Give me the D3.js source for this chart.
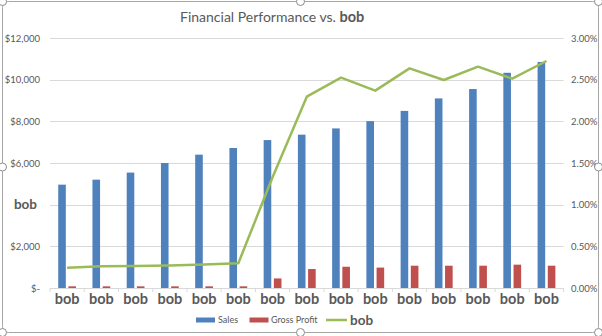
<!DOCTYPE html>
<html><head><meta charset="utf-8">
<script src="https://cdn.jsdelivr.net/npm/d3@7"></script>
<style>body{margin:0;background:#fff}svg{display:block}text{font-family:Lato,"Open Sans",sans-serif}</style>
</head><body><svg id="c" width="602" height="336"></svg>
<script>
const categories = ["bob","bob","bob","bob","bob","bob","bob","bob","bob","bob","bob","bob","bob","bob","bob"];
const sales = [4960,5200,5540,6000,6400,6720,7100,7360,7660,8010,8500,9100,9550,10330,10850];
const grossProfit = [80,80,80,80,80,80,460,910,1020,980,1070,1070,1070,1120,1070];
const bobPct = [0.00244,0.00262,0.00264,0.00270,0.00282,0.00296,0.0133,0.02296,0.02524,0.02368,0.02636,0.02496,0.02656,0.02512,0.02724];
const leftTicks = [0,2000,4000,6000,8000,10000,12000];
const leftTickLabels = ["$-","$2,000","bob","$6,000","$8,000","$10,000","$12,000"];
const rightTicks = [0,0.005,0.01,0.015,0.02,0.025,0.03];
const seriesNames = ["Sales","Gross Profit","bob"];

const svg = d3.select("#c");
const gray = "#595959";
const colors = {sales:"#4F81BD", gp:"#C0504D", line:"#9BBB59"};

// chart border + handles
svg.append("rect").attr("x",2.5).attr("y",1.5).attr("width",596).attr("height",331)
  .attr("rx",6).attr("fill","#fff").attr("stroke","#a6a6a6").attr("stroke-width",1);

const x = d3.scaleBand().domain(d3.range(categories.length)).range([50,563.6]).paddingInner(0).paddingOuter(0);
const yL = d3.scaleLinear().domain([0,12000]).range([288,38]);
const yR = d3.scaleLinear().domain([0,0.03]).range([288,38]);

// gridlines
svg.append("g").selectAll("line").data(leftTicks.slice(1)).join("line")
  .attr("x1",50).attr("x2",563.6).attr("y1",d=>Math.round(yL(d))+0.5).attr("y2",d=>Math.round(yL(d))+0.5)
  .attr("stroke","#d9d9d9").attr("stroke-width",1);

// left axis labels
svg.append("g").selectAll("text").data(leftTicks).join("text")
  .attr("x",40).attr("y",d=>yL(d)+3.5).attr("text-anchor","end")
  .attr("font-size",(d,i)=>leftTickLabels[i]==="bob"?13.5:9.5)
  .attr("font-weight",(d,i)=>leftTickLabels[i]==="bob"?"bold":"normal")
  .attr("fill",gray).text((d,i)=>leftTickLabels[i]).each(function(d,i){ if(leftTickLabels[i]==="bob") d3.select(this).attr("y",yL(d)+4.5).attr("x",37);});

// right axis labels
const pf = d3.format(".2%");
svg.append("g").selectAll("text").data(rightTicks).join("text")
  .attr("x",571).attr("y",d=>yR(d)+3.5).attr("font-size",9.5).attr("fill",gray).text(d=>pf(d));

// bars
const bw = 7.6;
svg.append("g").selectAll("rect").data(sales).join("rect")
  .attr("x",(d,i)=>x(i)+x.bandwidth()/2-1.3-bw).attr("width",bw)
  .attr("y",d=>yL(d)).attr("height",d=>yL(0)-yL(d)).attr("fill",colors.sales);
svg.append("g").selectAll("rect").data(grossProfit).join("rect")
  .attr("x",(d,i)=>x(i)+x.bandwidth()/2+1.3).attr("width",bw)
  .attr("y",d=>yL(d)).attr("height",d=>yL(0)-yL(d)).attr("fill",colors.gp);

// x axis line and ticks
svg.append("line").attr("x1",50).attr("x2",563.6).attr("y1",288.5).attr("y2",288.5).attr("stroke","#d9d9d9");
svg.append("g").selectAll("line").data(d3.range(categories.length+1)).join("line")
  .attr("x1",i=>(i<categories.length?x(i):563.6)).attr("x2",i=>(i<categories.length?x(i):563.6))
  .attr("y1",288).attr("y2",292).attr("stroke","#d9d9d9");

// category labels
svg.append("g").selectAll("text").data(categories).join("text")
  .attr("x",(d,i)=>x(i)+x.bandwidth()/2).attr("y",304).attr("text-anchor","middle")
  .attr("font-size",14.5).attr("font-weight","bold").attr("fill",gray).text(d=>d);

// line
const line = d3.line().x((d,i)=>x(i)+x.bandwidth()/2).y(d=>yR(d));
svg.append("path").datum(bobPct).attr("d",line).attr("fill","none")
  .attr("stroke",colors.line).attr("stroke-width",2.5).attr("stroke-linejoin","round");

// title
const t = svg.append("text").attr("x",180).attr("y",22).attr("font-size",14).attr("fill",gray);
t.append("tspan").text("Financial Performance vs. ");
t.append("tspan").attr("font-weight","bold").attr("font-size",14.5).text("bob");

// legend
const lg = svg.append("g");
lg.append("rect").attr("x",196).attr("y",317.5).attr("width",19).attr("height",5).attr("fill",colors.sales);
lg.append("text").attr("x",218).attr("y",322.5).attr("font-size",9).attr("fill",gray).text(seriesNames[0]);
lg.append("rect").attr("x",249.5).attr("y",317.5).attr("width",19).attr("height",5).attr("fill",colors.gp);
lg.append("text").attr("x",271).attr("y",322.5).attr("font-size",9).attr("fill",gray).text(seriesNames[1]);
lg.append("line").attr("x1",326).attr("x2",347).attr("y1",320).attr("y2",320).attr("stroke",colors.line).attr("stroke-width",2.5);
lg.append("text").attr("x",350).attr("y",324.5).attr("font-size",13.5).attr("font-weight","bold").attr("fill",gray).text(seriesNames[2]);

// selection handles
const hx=[2.5,300.5,598.5], hy=[1.5,167,332.5];
const handles=[];
hx.forEach(a=>hy.forEach(b=>{ if(!(a===300.5&&b===167)) handles.push([a,b]); }));
svg.append("g").selectAll("circle").data(handles).join("circle")
  .attr("cx",d=>d[0]).attr("cy",d=>d[1]).attr("r",4).attr("fill","#fff").attr("stroke","#8c8c8c");
</script></body></html>
